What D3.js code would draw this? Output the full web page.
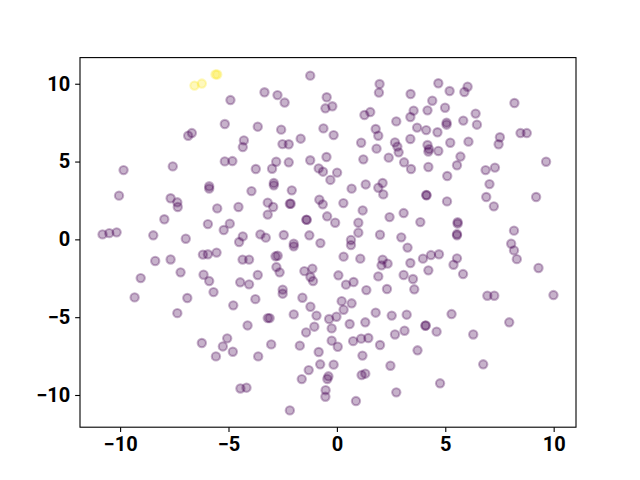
<!DOCTYPE html>
<html><head><meta charset="utf-8">
<script src="https://cdn.jsdelivr.net/npm/d3@7"></script>
<style>body{margin:0;background:#fff}</style>
</head><body>
<script>
// Series with colour value 0 (viridis low end)
const purpleX = [
-6.69,-6.86,-9.84,-7.57,
-1.23,-3.34,-2.74,-2.41,-4.91,-0.47,-0.53,-0.21,-5.17,-3.65,-2.57,-1.67,-0.62,-4.29,-4.34,-2.51,-2.22,-5.17,-4.82,-3.74,-2.99,-2.80,-2.22,-1.23,-0.48,-0.84,-0.64,-0.30,
-0.15,1.97,1.94,4.68,5.20,3.40,4.40,4.18,4.99,1.27,1.54,3.54,3.39,2.74,5.06,5.06,3.70,4.12,4.64,1.79,1.91,3.39,1.12,2.68,2.79,2.85,1.83,4.18,4.25,4.22,4.68,5.23,1.22,2.39,3.10,3.42,4.22,5.09,0.01,
6.03,5.88,8.19,6.40,5.83,6.46,8.47,8.76,7.52,7.46,6.07,5.70,5.54,9.65,6.86,7.29,
-10.05,-7.67,-7.36,-7.34,-7.96,-10.81,-10.50,-10.16,-8.47,-6.97,-6.18,-8.38,-7.67,-7.21,-6.15,-9.05,-9.33,-6.90,
-5.89,-5.89,-2.91,-2.91,-3.94,-2.08,-3.19,-2.94,-2.17,-2.13,-0.81,-0.65,-5.52,-4.54,-3.19,-1.41,-1.39,-0.45,-5.95,-5.22,-4.94,-4.34,-4.51,-3.53,-3.28,-2.45,-1.99,-1.99,-1.27,-0.76,-5.95,-5.55,-4.35,-4.05,-2.83,-2.73,-2.79,-2.64,-3.65,-1.50,-1.13,-1.22,-1.10,-5.89,-4.46,-4.05,-2.50,-2.50,-5.69,-3.76,-1.59,
1.33,1.91,2.11,2.14,0.68,4.12,4.14,5.08,0.30,1.19,2.43,3.08,3.85,-0.08,0.99,0.99,0.65,0.65,1.99,2.97,3.26,0.31,1.08,2.11,2.06,2.34,3.39,3.97,4.34,4.71,4.22,0.07,0.42,0.77,1.91,3.08,3.51,1.36,2.31,3.57,0.22,0.68,
7.04,6.89,7.24,9.19,5.57,5.57,5.54,5.54,8.17,8.04,8.17,8.30,5.54,5.38,5.82,9.30,6.94,7.26,9.99,
-7.36,-6.23,
-4.78,-1.22,-3.19,-3.10,-1.99,-0.94,-4.12,-5.06,-5.26,-5.58,-4.80,-3.03,-3.63,-1.04,-1.42,-1.71,-0.84,-0.77,-1.30,-1.62,-0.39,-0.44,-0.52,-0.53,-4.45,-4.17,-2.17,
0.31,-0.02,-0.36,-0.24,1.79,2.53,3.22,5.29,0.59,1.31,4.08,4.10,4.60,3.12,2.68,-0.24,0.75,1.12,1.45,0.04,1.99,3.72,1.18,-0.15,2.47,1.14,1.31,4.76,2.74,0.88,
7.95,6.29,6.75
];
const purpleY = [
6.83,6.66,4.45,4.69,
10.52,9.45,9.27,8.79,8.95,9.13,8.42,8.55,7.41,7.24,7.05,6.47,7.13,6.36,5.93,6.12,6.11,5.01,5.03,4.52,4.54,4.99,4.95,5.08,5.29,4.56,4.35,3.82,
6.70,9.98,9.43,10.03,9.53,9.34,8.91,8.29,8.46,7.99,8.18,8.27,7.86,7.58,7.50,7.37,7.18,7.02,6.88,7.09,6.66,6.45,6.21,6.23,5.96,5.59,5.83,6.06,5.80,5.64,5.68,6.21,5.14,5.25,4.95,4.52,4.65,4.07,4.29,
9.81,9.47,8.76,8.08,7.63,7.37,6.83,6.83,6.56,6.11,6.28,5.32,4.76,4.99,4.45,4.61,
2.81,2.64,2.38,2.08,1.29,0.32,0.40,0.45,0.26,0.04,-0.98,-1.39,-1.29,-2.12,-2.27,-2.49,-3.73,-3.77,
3.41,3.26,3.62,3.47,3.10,3.15,2.36,2.08,2.29,2.29,2.55,2.25,1.99,2.08,1.59,1.27,1.25,1.48,0.98,0.60,1.01,0.19,-0.17,0.32,0.11,0.28,-0.28,-0.45,0.26,-0.24,-0.96,-0.85,-1.30,-1.30,-1.09,-1.05,-1.78,-2.12,-2.29,-2.04,-1.88,-2.42,-2.68,-2.68,-2.76,-2.89,-3.23,-3.49,-3.39,-3.84,-3.75,
3.53,3.32,3.62,2.89,3.26,2.85,2.83,2.44,2.33,1.86,1.43,1.69,1.11,1.07,1.07,0.43,-0.04,-0.37,0.30,0.13,-0.53,-1.11,-1.24,-1.30,-1.67,-1.56,-1.52,-1.24,-1.01,-0.96,-1.99,-2.31,-2.91,-2.74,-2.38,-2.29,-2.55,-3.26,-3.19,-3.21,-3.97,-4.11,
3.55,2.72,2.12,2.72,1.11,1.01,0.34,0.26,0.56,-0.28,-0.71,-1.27,-1.22,-1.63,-2.23,-1.84,-3.62,-3.62,-3.58,
-4.74,-6.66,
-4.24,-4.33,-5.06,-5.06,-4.82,-4.90,-5.53,-6.36,-6.88,-7.52,-7.22,-6.75,-7.52,-5.61,-5.98,-6.83,-7.24,-8.03,-8.40,-8.98,-8.80,-8.97,-9.69,-10.11,-9.58,-9.53,-10.99,
-4.52,-4.97,-5.12,-5.72,-4.71,-4.90,-4.84,-4.80,-5.44,-5.33,-5.55,-5.53,-5.93,-5.87,-6.11,-6.51,-6.54,-6.38,-6.34,-6.90,-6.79,-7.13,-7.47,-8.05,-8.12,-8.72,-8.63,-9.25,-9.83,-10.39,
-5.33,-6.11,-8.03
];
const purpleValue = 0;

// Series with colour value 1 (viridis high end)
const yellowX = [-6.57, -6.23, -5.60, -5.52];
const yellowY = [9.88, 10.01, 10.60, 10.59];
const yellowValue = 1;

const xTicks = [-10, -5, 0, 5, 10];
const yTicks = [-10, -5, 0, 5, 10];

const W = 640, H = 480;
const L = 80, R = 576, T = 57.6, B = 427.2;

const allX = purpleX.concat(yellowX), allY = purpleY.concat(yellowY);
function padded(arr) {
  const [a, b] = d3.extent(arr); const p = (b - a) * 0.05; return [a - p, b + p];
}
const x = d3.scaleLinear().domain(padded(allX)).range([L, R]);
const y = d3.scaleLinear().domain(padded(allY)).range([B, T]);
const color = d3.scaleSequential(d3.interpolateViridis).domain([0, 1]);

const svg = d3.select("body").append("svg").attr("width", W).attr("height", H)
  .style("font-family", "Roboto, sans-serif");

const series = [
  {xs: purpleX, ys: purpleY, v: purpleValue},
  {xs: yellowX, ys: yellowY, v: yellowValue}
];
const g = svg.append("g");
series.forEach(s => {
  g.selectAll(null).data(s.xs.map((d, i) => [d, s.ys[i]])).enter().append("circle")
    .attr("cx", d => x(d[0])).attr("cy", d => y(d[1])).attr("r", 4.17)
    .attr("fill", color(s.v)).attr("fill-opacity", 0.3)
    .attr("stroke", color(s.v)).attr("stroke-opacity", 0.3).attr("stroke-width", 2.08);
});

const fmt = d => d < 0 ? "\u2212" + Math.abs(d) : String(d);
const xAxis = svg.append("g").attr("transform", `translate(0,${B})`)
  .call(d3.axisBottom(x).tickValues(xTicks).tickFormat(fmt).tickSize(4.86).tickPadding(4.4));
const yAxis = svg.append("g").attr("transform", `translate(${L},0)`)
  .call(d3.axisLeft(y).tickValues(yTicks).tickFormat(fmt).tickSize(4.86).tickPadding(4.86));
[xAxis, yAxis].forEach(a => {
  a.select(".domain").remove();
  a.selectAll("line").attr("stroke", "#000").attr("stroke-width", 1.1);
  a.selectAll("text").attr("fill", "#000").style("font-size", "20px").style("font-weight", "bold")
   .style("font-family", "Roboto, sans-serif");
});
svg.append("rect").attr("x", L).attr("y", T).attr("width", R - L).attr("height", B - T)
  .attr("fill", "none").attr("stroke", "#000").attr("stroke-width", 1.1);
</script>
</body></html>
